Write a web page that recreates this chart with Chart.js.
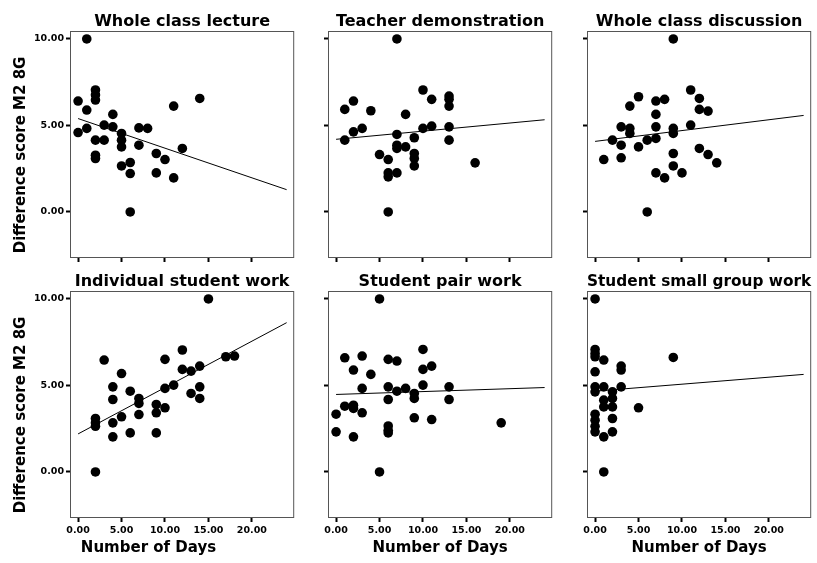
<!DOCTYPE html>
<html>
<head>
<meta charset="utf-8">
<script src="https://cdn.jsdelivr.net/npm/chart.js@4.4.1/dist/chart.umd.min.js"></script>
<style>
  html, body { margin: 0; padding: 0; background: #fff; overflow: hidden; }
  #page { position: relative; width: 817px; height: 563px; }
  .panel { position: absolute; }
</style>
</head>
<body>
<div id="page"></div>
<script>
// tick values shared by every panel
const xTicks = [0, 5, 10, 15, 20]
const yTicks = [0, 5, 10]

const panelTitles = ['Whole class lecture', 'Teacher demonstration', 'Whole class discussion',
    'Individual student work', 'Student pair work', 'Student small group work']

// number of days per activity vs difference score
const lectureDays = [1, 0, 0, 1, 1, 2, 2, 2, 2, 2, 2, 3, 3, 4, 4, 5, 5, 5, 5, 6, 6, 6, 7, 7, 8, 9, 9, 10, 11, 11, 12, 14]
const lectureScores = [10.0, 6.41, 4.59, 5.89, 4.83, 7.05, 6.76, 6.47, 4.15, 3.28, 3.09, 5.02, 4.15, 5.64, 4.92, 4.54, 4.15, 3.76, 2.66, 2.86, 2.22, 0.0, 4.86, 3.86, 4.83, 3.38, 2.26, 3.03, 6.12, 1.97, 3.67, 6.56]

const demoDays = [7, 1, 2, 1, 2, 3, 4, 5, 6, 6, 6, 6, 7, 7, 7, 7, 8, 8, 9, 9, 9, 9, 10, 10, 11, 11, 13, 13, 13, 13, 13, 16]
const demoScores = [10.0, 5.93, 6.41, 4.15, 4.63, 4.83, 5.85, 3.32, 3.03, 2.26, 2.03, 0.0, 4.48, 3.86, 3.67, 2.26, 5.64, 3.76, 4.29, 3.38, 3.09, 2.66, 7.05, 4.83, 6.51, 4.96, 6.70, 6.51, 6.12, 4.92, 4.15, 2.84]

const discussionDays = [9, 1, 2, 3, 3, 3, 4, 4, 4, 5, 5, 6, 6, 7, 7, 7, 7, 7, 8, 8, 9, 9, 9, 9, 10, 11, 11, 12, 12, 12, 13, 13, 14]
const discussionScores = [10.0, 3.03, 4.15, 4.92, 3.86, 3.13, 6.12, 4.83, 4.54, 6.66, 3.76, 4.15, 0.0, 6.41, 5.64, 4.92, 4.25, 2.26, 6.51, 1.97, 4.83, 4.54, 3.38, 2.66, 2.26, 7.05, 5.02, 6.56, 5.93, 3.67, 5.83, 3.32, 2.84]

const individualDays = [15, 2, 2, 2, 2, 3, 4, 4, 4, 4, 5, 5, 6, 6, 7, 7, 7, 9, 9, 9, 10, 10, 10, 11, 12, 12, 13, 13, 14, 14, 14, 17, 18]
const individualScores = [10.0, 0.0, 3.09, 2.84, 2.64, 6.47, 4.92, 4.19, 2.84, 2.03, 5.69, 3.19, 4.67, 2.26, 4.25, 3.96, 3.32, 3.90, 3.42, 2.26, 6.51, 4.83, 3.71, 5.02, 7.05, 5.93, 5.83, 4.54, 6.12, 4.92, 4.25, 6.66, 6.70]

const pairDays = [5, 5, 0, 0, 1, 1, 2, 2, 2, 2, 3, 3, 3, 4, 6, 7, 6, 6, 6, 6, 6, 7, 8, 9, 9, 9, 10, 10, 10, 11, 11, 13, 13, 19]
const pairScores = [10.0, 0.0, 3.34, 2.32, 6.60, 3.80, 5.89, 3.86, 3.67, 2.03, 6.70, 4.83, 3.42, 5.64, 6.51, 6.41, 4.92, 4.19, 2.66, 2.41, 2.26, 4.67, 4.83, 4.54, 4.25, 3.13, 7.08, 5.93, 5.02, 6.12, 3.03, 4.92, 4.19, 2.84]

const groupDays = [0, 0, 0, 0, 0, 0, 0, 0, 0, 0, 0, 1, 1, 1, 1, 1, 1, 2, 2, 2, 2, 2, 3, 3, 3, 5, 9]
const groupScores = [10.0, 7.08, 6.85, 6.66, 5.79, 4.92, 4.63, 3.34, 2.99, 2.64, 2.32, 6.47, 4.92, 4.15, 3.76, 2.03, 0.0, 4.63, 4.25, 3.76, 3.09, 2.32, 6.12, 5.89, 4.92, 3.71, 6.62]

// fit lines: score at the start and end of fitDays
const fitDays = [0, 24]
const lectureFit = [5.40, 1.29]
const demoFit = [4.20, 5.33]
const discussionFit = [4.08, 5.58]
const individualFit = [2.20, 8.63]
const pairFit = [4.48, 4.88]
const groupFit = [4.67, 5.64]

const panelDays = [lectureDays, demoDays, discussionDays, individualDays, pairDays, groupDays]
const panelScores = [lectureScores, demoScores, discussionScores, individualScores, pairScores, groupScores]
const panelFits = [lectureFit, demoFit, discussionFit, individualFit, pairFit, groupFit]

// layout
const BOX = 227
const BOX_LEFT = [70, 328, 587]
const BOX_TOP = [31, 291]
const X_MIN = -0.93, X_MAX = 24.87
const Y_MIN = -2.66, Y_MAX = 10.46

const TICK_FONT = { family: 'DejaVu Sans', size: 9.5, weight: 'bold' }
const AXIS_FONT = { family: 'DejaVu Sans', size: 15, weight: 'bold', lineHeight: 1.2 }
const TITLE_FONT = { family: 'DejaVu Sans', size: 16, weight: 'bold', lineHeight: 1.2 }

const frame = {
    id: 'frame',
    beforeDatasetsDraw(chart) {
        const { ctx, chartArea: a } = chart
        ctx.save()
        ctx.strokeStyle = '#555'
        ctx.lineWidth = 1
        ctx.strokeRect(a.left + 0.5, a.top + 0.5, a.right - a.left - 1, a.bottom - a.top - 1)
        ctx.restore()
    }
}

const tickGrid = { drawOnChartArea: false, drawTicks: true, tickLength: 4, tickWidth: 2, tickColor: '#000', color: '#000' }

function makePanel(i) {
    const row = Math.floor(i / 3), col = i % 3
    const first = col === 0, bottom = row === 1
    const yAxisW = first ? 70 : 10
    const left = first ? 0 : BOX_LEFT[col] - yAxisW
    const top = row === 0 ? 0 : 260
    const height = row === 0 ? 280 : 303
    const width = BOX_LEFT[col] + BOX + 2 - left
    const topH = BOX_TOP[row] - top
    const useSubtitle = first && bottom
    const bottomH = height - topH - BOX - (useSubtitle ? 24 : 0)

    const div = document.createElement('div')
    div.className = 'panel'
    div.style.left = left + 'px'
    div.style.top = top + 'px'
    div.style.width = width + 'px'
    div.style.height = height + 'px'
    const canvas = document.createElement('canvas')
    div.appendChild(canvas)
    document.getElementById('page').appendChild(div)

    const days = panelDays[i], scores = panelScores[i], fit = panelFits[i]
    const points = days.map((d, k) => ({ x: d, y: scores[k] }))
    const line = fitDays.map((d, k) => ({ x: d, y: fit[k] }))

    return new Chart(canvas, {
        type: 'scatter',
        data: {
            datasets: [
                { data: points, backgroundColor: '#000', borderWidth: 0, pointRadius: 4.8, pointHoverRadius: 4.8 },
                { data: line, showLine: true, borderColor: '#000', borderWidth: 1, pointRadius: 0, fill: false }
            ]
        },
        options: {
            responsive: true,
            maintainAspectRatio: false,
            animation: false,
            events: [],
            layout: { padding: { top: 0, left: 0, right: 2, bottom: 0 } },
            plugins: {
                legend: { display: false },
                tooltip: { enabled: false },
                title: { display: false },
                // left column: centre "Number of Days" under the whole panel, ticks included
                subtitle: {
                    display: useSubtitle,
                    position: 'bottom',
                    text: 'Number of Days',
                    color: '#000',
                    font: AXIS_FONT,
                    padding: { top: 0, bottom: 6 }
                }
            },
            scales: {
                x: {
                    type: 'linear',
                    min: X_MIN,
                    max: X_MAX,
                    afterBuildTicks: s => { s.ticks = xTicks.map(v => ({ value: v })) },
                    afterFit: s => { s.height = bottomH },
                    grid: tickGrid,
                    border: { display: false },
                    ticks: {
                        display: bottom, font: TICK_FONT, color: '#000', padding: 3,
                        maxRotation: 0, autoSkip: false,
                        callback: v => Number(v).toFixed(2)
                    },
                    title: {
                        display: bottom && !first, text: 'Number of Days', color: '#000',
                        font: AXIS_FONT, padding: { top: 0, bottom: 6 }
                    }
                },
                x2: {
                    type: 'linear',
                    position: 'top',
                    afterFit: s => { s.height = topH },
                    grid: { display: false },
                    border: { display: false },
                    ticks: { display: false },
                    title: {
                        display: true, text: panelTitles[i], color: '#000',
                        font: TITLE_FONT, padding: { top: 12, bottom: 0 }
                    }
                },
                y: {
                    type: 'linear',
                    min: Y_MIN,
                    max: Y_MAX,
                    afterBuildTicks: s => { s.ticks = yTicks.map(v => ({ value: v })) },
                    afterFit: s => { s.width = yAxisW },
                    grid: tickGrid,
                    border: { display: false },
                    ticks: {
                        display: first, font: TICK_FONT, color: '#000', padding: 2,
                        callback: v => Number(v).toFixed(2)
                    },
                    title: {
                        // trailing spaces push the label down a little, like the original
                        display: first, text: 'Difference score M2 8G    ', color: '#000',
                        font: AXIS_FONT, padding: { top: 12, bottom: 0 }
                    }
                }
            }
        },
        plugins: [frame]
    })
}

for (let i = 0; i < 6; ++i) {
    makePanel(i)
}
</script>
</body>
</html>
